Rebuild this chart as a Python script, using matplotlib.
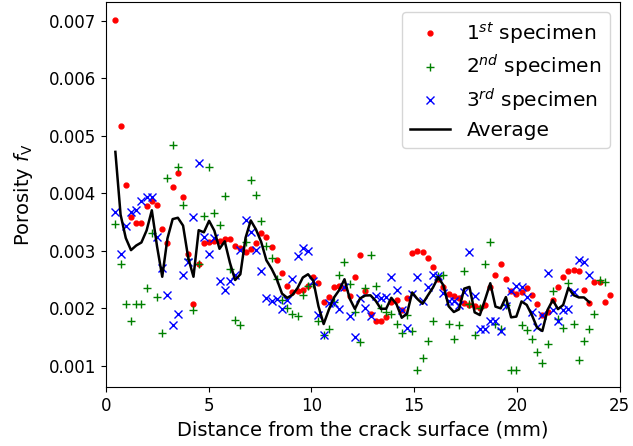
import numpy as np
import matplotlib
matplotlib.use('Agg')
import matplotlib.pyplot as plt

# sampling positions along the specimen (mm), evenly spaced slices
dist_mm = np.linspace(0.47, 24.53, 96)

# porosity per slice
spec1 = np.array([
    0.00702, 0.00517, 0.00415, 0.00359, 0.00349, 0.00349, 0.00377, 0.00386,
    0.00380, 0.00337, 0.00314, 0.00410, 0.00436, 0.00393, 0.00295, 0.00208,
    0.00277, 0.00313, 0.00316, 0.00317, 0.00317, 0.00321, 0.00321, 0.00309,
    0.00305, 0.00298, 0.00303, 0.00313, 0.00330, 0.00324, 0.00306, 0.00284,
    0.00262, 0.00238, 0.00228, 0.00229, 0.00232, 0.00239, 0.00254, 0.00244,
    0.00210, 0.00220, 0.00237, 0.00239, 0.00235, 0.00222, 0.00254, 0.00292,
    0.00230, 0.00189, 0.00178, 0.00178, 0.00185, 0.00210, 0.00215, 0.00196,
    0.00217, 0.00296, 0.00300, 0.00297, 0.00287, 0.00272, 0.00250, 0.00236,
    0.00224, 0.00221, 0.00218, 0.00209, 0.00206, 0.00204, 0.00200, 0.00206,
    0.00236, 0.00258, 0.00276, 0.00250, 0.00230, 0.00225, 0.00228, 0.00235,
    0.00223, 0.00208, 0.00188, 0.00193, 0.00215, 0.00236, 0.00255, 0.00265,
    0.00267, 0.00264, 0.00232, 0.00209, 0.00246, 0.00246, 0.00211, 0.00223,
])

spec2 = np.array([
    0.00346, 0.00276, 0.00208, 0.00177, 0.00208, 0.00208, 0.00235, 0.00331,
    0.00220, 0.00157, 0.00427, 0.00484, 0.00446, 0.00380, 0.00286, 0.00197,
    0.00277, 0.00360, 0.00445, 0.00366, 0.00345, 0.00396, 0.00268, 0.00180,
    0.00170, 0.00316, 0.00423, 0.00397, 0.00351, 0.00309, 0.00287, 0.00251,
    0.00215, 0.00201, 0.00190, 0.00187, 0.00223, 0.00239, 0.00242, 0.00178,
    0.00153, 0.00163, 0.00210, 0.00258, 0.00280, 0.00242, 0.00193, 0.00141,
    0.00235, 0.00292, 0.00238, 0.00200, 0.00193, 0.00189, 0.00173, 0.00157,
    0.00188, 0.00161, 0.00093, 0.00113, 0.00142, 0.00178, 0.00256, 0.00257,
    0.00173, 0.00147, 0.00171, 0.00265, 0.00207, 0.00153, 0.00201, 0.00276,
    0.00316, 0.00172, 0.00163, 0.00205, 0.00093, 0.00093, 0.00171, 0.00162,
    0.00146, 0.00123, 0.00105, 0.00137, 0.00230, 0.00181, 0.00165, 0.00243,
    0.00173, 0.00109, 0.00143, 0.00164, 0.00190, 0.00249, 0.00246,
])

spec3 = np.array([
    0.00368, 0.00295, 0.00343, 0.00367, 0.00370, 0.00386, 0.00394, 0.00394,
    0.00323, 0.00270, 0.00223, 0.00171, 0.00190, 0.00258, 0.00280, 0.00359,
    0.00453, 0.00323, 0.00295, 0.00322, 0.00248, 0.00232, 0.00248, 0.00258,
    0.00302, 0.00353, 0.00332, 0.00301, 0.00265, 0.00217, 0.00213, 0.00216,
    0.00199, 0.00215, 0.00251, 0.00290, 0.00305, 0.00299, 0.00248, 0.00188,
    0.00154, 0.00209, 0.00209, 0.00198, 0.00236, 0.00186, 0.00149, 0.00218,
    0.00201, 0.00186, 0.00222, 0.00218, 0.00219, 0.00255, 0.00232, 0.00197,
    0.00166, 0.00225, 0.00255, 0.00213, 0.00237, 0.00258, 0.00256, 0.00226,
    0.00213, 0.00212, 0.00205, 0.00228, 0.00298, 0.00221, 0.00163, 0.00163,
    0.00178, 0.00178, 0.00160, 0.00203, 0.00229, 0.00238, 0.00236, 0.00220,
    0.00194, 0.00167, 0.00188, 0.00261, 0.00197, 0.00178, 0.00197, 0.00198,
    0.00228, 0.00283, 0.00281, 0.00258,
])

# average over the slices that all three specimens cover
n_common = len(spec3)
average = (spec1[:n_common] + spec2[:n_common] + spec3) / 3

plt.rcParams['font.size'] = 12

fig, ax = plt.subplots(figsize=(6.33, 4.46), dpi=100)
fig.subplots_adjust(left=0.167, right=0.979, bottom=0.132, top=0.995)

ax.plot(dist_mm, spec1, 'r.', ms=7, label='1$^{st}$ specimen')
ax.plot(dist_mm[:len(spec2)], spec2, 'g+', label='2$^{nd}$ specimen')
ax.plot(dist_mm[:n_common], spec3, 'bx', label='3$^{rd}$ specimen')
ax.plot(dist_mm[:n_common], average, 'k-', lw=1.8, label='Average')

ax.set_xlim(0, 25)
ax.set_xlabel('Distance from the crack surface (mm)', fontsize=14)
ax.set_ylabel(r'Porosity $f_{\mathrm{V}}$', fontsize=14, labelpad=10)
ax.legend(loc='upper right', fontsize=14.5, labelspacing=0.33)

plt.savefig('out.png', dpi=100)
